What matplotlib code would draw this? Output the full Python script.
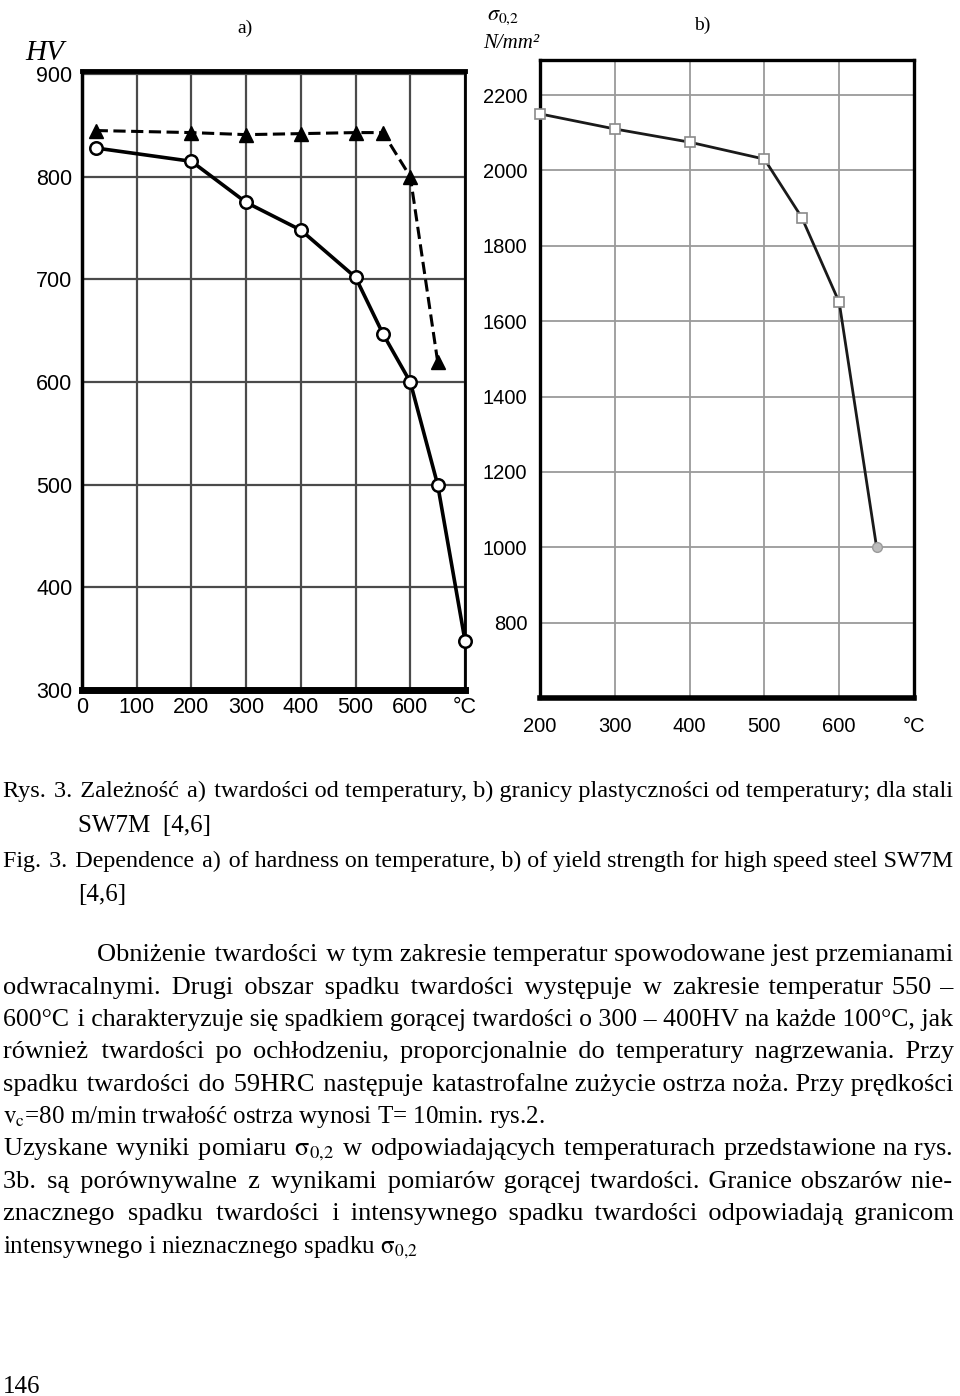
import math
import matplotlib
matplotlib.use('Agg')
import matplotlib.pyplot as plt
from matplotlib import font_manager, ft2font

plt.rcParams['mathtext.fontset'] = 'stix'

# a) hardness HV vs temperature
temp_hot = [25, 200, 300, 400, 500, 550, 600, 650, 700]
hv_hot = [828, 815, 775, 748, 702, 647, 600, 500, 348]
temp_cold = [25, 200, 300, 400, 500, 550, 600, 650]
hv_cold = [845, 843, 841, 842, 843, 843, 800, 620]
hv_ticks = [300, 400, 500, 600, 700, 800, 900]
temp_ticks_a = [0, 100, 200, 300, 400, 500, 600, 700]
temp_labels_a = ['0', '100', '200', '300', '400', '500', '600', '°C']

# b) yield strength vs temperature
temp_b = [200, 300, 400, 500, 550, 600, 650]
sigma_b = [2150, 2110, 2075, 2030, 1875, 1650, 1000]
sigma_ticks = [800, 1000, 1200, 1400, 1600, 1800, 2000, 2200]
temp_ticks_b = [200, 300, 400, 500, 600, 700]
temp_labels_b = ['200', '300', '400', '500', '600', '°C']

# page text: (left px, baseline px, justified, text)
body_lines = [
    (3, 797, True, "Rys. 3. Zależność a) twardości od temperatury, b) granicy plastyczności od temperatury; dla stali"),
    (78, 832, False, "SW7M  [4,6]"),
    (3, 867, True, "Fig. 3. Dependence a) of hardness on temperature, b) of yield strength for high speed steel SW7M"),
    (78, 901, False, "[4,6]"),
    (97, 961, True, "Obniżenie twardości w tym zakresie temperatur spowodowane jest przemianami"),
    (3, 994, True, "odwracalnymi. Drugi obszar spadku twardości występuje w zakresie temperatur 550 –"),
    (3, 1026, True, "600°C i charakteryzuje się spadkiem gorącej twardości o 300 – 400HV na każde 100°C, jak"),
    (3, 1058, True, "również twardości po ochłodzeniu, proporcjonalnie do temperatury nagrzewania. Przy"),
    (3, 1091, True, "spadku twardości do 59HRC następuje katastrofalne zużycie ostrza noża. Przy prędkości"),
    (3, 1123, False, r"$\mathrm{v_c}$=80 m/min trwałość ostrza wynosi T= 10min. rys.2."),
    (3, 1155, True, r"Uzyskane wyniki pomiaru $\mathrm{\sigma_{0{,}2}}$ w odpowiadających temperaturach przedstawione na rys."),
    (3, 1188, True, "3b. są porównywalne z wynikami pomiarów gorącej twardości. Granice obszarów nie-"),
    (3, 1220, True, "znacznego spadku twardości i intensywnego spadku twardości odpowiadają granicom"),
    (3, 1253, False, r"intensywnego i nieznacznego spadku $\mathrm{\sigma_{0{,}2}}$"),
    (3, 1393, False, "146"),
]

W, H = 960, 1396
RIGHT = 954
fig = plt.figure(figsize=(W / 100, H / 100), dpi=100)


def px_axes(l, t, r, b):
    return fig.add_axes([l / W, 1 - b / H, (r - l) / W, (b - t) / H])


# ---- chart a
ax_a = px_axes(82, 71, 465, 690)
ax_a.set_xlim(0, 700)
ax_a.set_ylim(300, 903)
ax_a.set_xticks(temp_ticks_a, temp_labels_a)
ax_a.set_yticks(hv_ticks)
ax_a.grid(True, color='#4a4a4a', lw=1.6)
ax_a.set_axisbelow(True)
ax_a.tick_params(length=0, labelsize=15.5)
ax_a.tick_params(axis='x', pad=5)
ax_a.tick_params(axis='y', pad=7)
for lab in ax_a.get_xticklabels() + ax_a.get_yticklabels():
    lab.set_family('Liberation Sans')
ax_a.spines['top'].set_linewidth(3.5)
ax_a.spines['bottom'].set_linewidth(5)
ax_a.spines['left'].set_linewidth(2.5)
ax_a.spines['right'].set_linewidth(2)

ax_a.plot(temp_cold, hv_cold, color='black', lw=2.2, ls=(0, (4, 1.8)),
          marker='^', ms=10, mfc='black', mec='black', clip_on=False, zorder=3)
ax_a.plot(temp_hot, hv_hot, color='black', lw=2.6, marker='o', ms=9,
          mfc='white', mec='black', mew=1.8, clip_on=False, zorder=4)

# ---- chart b
ax_b = px_axes(540, 60, 914, 698)
ax_b.set_xlim(200, 700)
ax_b.set_ylim(600, 2293)
ax_b.set_xticks(temp_ticks_b, temp_labels_b)
ax_b.set_yticks(sigma_ticks)
ax_b.grid(True, color='#9a9a9a', lw=1.3)
ax_b.set_axisbelow(True)
ax_b.tick_params(length=0, labelsize=14.5)
ax_b.tick_params(axis='x', pad=14)
ax_b.tick_params(axis='y', pad=9)
for lab in ax_b.get_xticklabels() + ax_b.get_yticklabels():
    lab.set_family('Liberation Sans')
for side in ['top', 'left', 'right']:
    ax_b.spines[side].set_linewidth(2.4)
ax_b.spines['bottom'].set_linewidth(4)

ax_b.plot(temp_b, sigma_b, color='#1a1a1a', lw=2.0, zorder=3, clip_on=False)
ax_b.plot(temp_b[:-1], sigma_b[:-1], ls='none', marker='s', ms=6.5,
          mfc='white', mec='#8a8a8a', mew=1.2, zorder=4, clip_on=False)
ax_b.plot(temp_b[-1:], sigma_b[-1:], ls='none', marker='o', ms=7,
          mfc='#bdbdbd', mec='#9a9a9a', zorder=4)

# ---- chart labels
fig.text(25 / W, 1 - 60 / H, 'HV', family='Liberation Serif', style='italic',
         fontsize=21, va='baseline')
fig.text(245 / W, 1 - 33 / H, 'a)', family='Liberation Serif', fontsize=14,
         ha='center', va='baseline')
fig.text(702 / W, 1 - 30 / H, 'b)', family='Liberation Serif', fontsize=14,
         ha='center', va='baseline')
fig.text(487 / W, 1 - 20 / H, r'$\sigma_{0{,}2}$', fontsize=16, va='baseline')
fig.text(483 / W, 1 - 48 / H, 'N/mm²', family='Liberation Serif', style='italic',
         fontsize=15, va='baseline')

# ---- page text, justified like the source
BODY = dict(family='Liberation Serif', color='black', va='baseline')
renderer = fig.canvas.get_renderer()
HAIR = '\u200a'
serif_file = font_manager.findfont(font_manager.FontProperties(family='Liberation Serif'))
has_hair = ft2font.FT2Font(serif_file).get_char_index(ord(HAIR)) != 0


def text_width(s, fs):
    t = fig.text(0, 0, s, fontsize=fs, **BODY)
    wd = t.get_window_extent(renderer).width
    t.remove()
    return wd


def padded(words, n):
    g = len(words) - 1
    parts = [words[0]]
    for i, w in enumerate(words[1:]):
        k = n // g + (1 if i < n % g else 0)
        parts.append(' ' + HAIR * k + w)
    return ''.join(parts)


BASE_FS = 18.0
MAX_FS = 19.0
MIN_GAP = 7
for x0, y, just, line in body_lines:
    words = line.split(' ')
    avail = RIGHT - x0
    if not just:
        fig.text(x0 / W, 1 - y / H, line, fontsize=BASE_FS, **BODY)
        continue
    fs = MAX_FS
    need = sum(text_width(w, fs) for w in words) + (len(words) - 1) * MIN_GAP
    if need > avail:
        fs = math.floor(4 * fs * avail / need) / 4
    if has_hair:
        # one text per line: pad the spaces with hair spaces
        hair_w = (text_width('x' + HAIR * 40 + 'x', fs) - text_width('xx', fs)) / 40
        n = 0
        if hair_w > 0:
            n = max(0, round((avail - text_width(' '.join(words), fs)) / hair_w))
            for _ in range(6):
                diff = avail - text_width(padded(words, n), fs)
                if abs(diff) <= hair_w:
                    break
                n = max(0, n + int(diff / hair_w))
            while n > 0 and text_width(padded(words, n), fs) > avail:
                n -= 1
        fig.text(x0 / W, 1 - y / H, padded(words, n), fontsize=fs, **BODY)
    else:
        widths = [text_width(w, fs) for w in words]
        gap = (avail - sum(widths)) / (len(words) - 1)
        x = x0
        for w, wd in zip(words, widths):
            fig.text(x / W, 1 - y / H, w, fontsize=fs, **BODY)
            x += wd + gap

fig.savefig('out.png', dpi=100, facecolor='white')
